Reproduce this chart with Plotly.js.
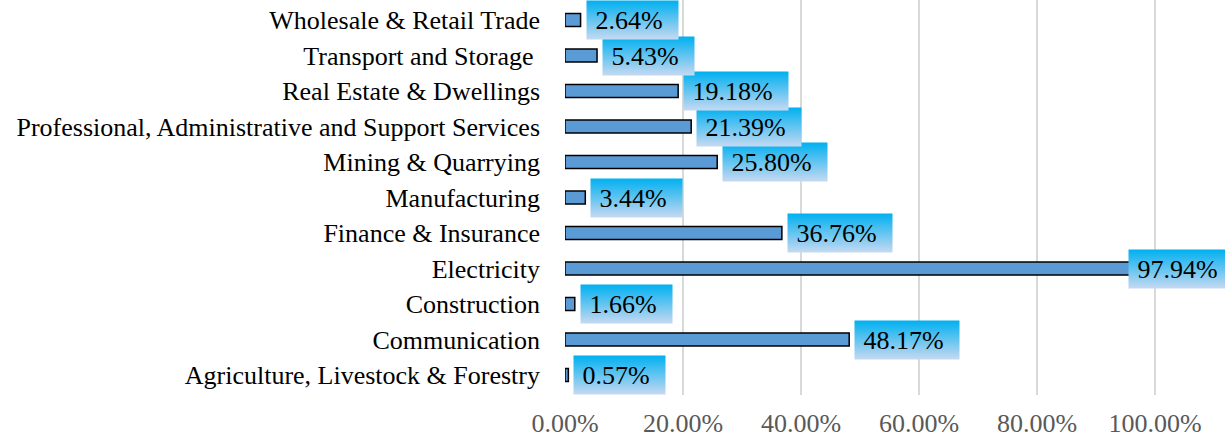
<!DOCTYPE html>
<html>
<head>
<meta charset="utf-8">
<script src="https://cdn.plot.ly/plotly-3.0.1.min.js"></script>
<style>html,body{margin:0;padding:0;background:#fff;}#chart{width:1225px;height:437px;}</style>
</head>
<body>
<div id="chart"></div>
<script>
const categories = [
  "Agriculture, Livestock & Forestry",
  "Communication",
  "Construction",
  "Electricity",
  "Finance & Insurance",
  "Manufacturing",
  "Mining & Quarrying",
  "Professional, Administrative and Support Services",
  "Real Estate & Dwellings",
  "Transport and Storage ",
  "Wholesale & Retail Trade"
];
const shares = [0.0057, 0.4817, 0.0166, 0.9794, 0.3676, 0.0344, 0.2580, 0.2139, 0.1918, 0.0543, 0.0264];
const tickValues = [0, 0.2, 0.4, 0.6, 0.8, 1.0];

const FONT = '"Times New Roman", "Liberation Serif", serif';

const annotations = categories.map((c, i) => {
  const v = shares[i];
  const over = v > 0.9;
  return {
    x: v, y: c, xref: 'x', yref: 'y',
    text: '\u00a0' + (v * 100).toFixed(2) + '%' + (over ? '\u00a0' : '\u00a0\u00a0'),
    showarrow: false,
    xanchor: 'left',
    xshift: over ? -15 : 5,
    bgcolor: '#5cc3f0',
    borderpad: 2,
    height: 34,
    font: {family: FONT, size: 26, color: '#000'}
  };
});

const trace = {
  type: 'bar', orientation: 'h',
  x: shares, y: categories,
  width: 0.36,
  marker: {color: '#5b9bd5', line: {color: '#000', width: 1.5}},
  hoverinfo: 'none'
};

const layout = {
  width: 1225, height: 437,
  margin: {l: 565, r: 11, t: 0, b: 42},
  paper_bgcolor: '#fff', plot_bgcolor: '#fff',
  showlegend: false,
  font: {family: FONT, size: 26, color: '#000'},
  xaxis: {
    range: [0, 1.1],
    tickvals: tickValues,
    tickformat: '.2%',
    showgrid: true, gridcolor: '#d9d9d9', gridwidth: 2,
    zeroline: false, showline: false,
    ticks: '', ticklabelstandoff: 10,
    tickfont: {family: FONT, size: 26, color: '#595959'},
    fixedrange: true
  },
  yaxis: {
    type: 'category',
    categoryorder: 'array', categoryarray: categories,
    showgrid: false, zeroline: false, showline: false,
    ticks: '', ticklabelstandoff: 24,
    tickfont: {family: FONT, size: 26, color: '#000'},
    fixedrange: true
  },
  annotations: annotations
};

Plotly.newPlot('chart', [trace], layout, {displayModeBar: false, staticPlot: true}).then(gd => {
  const svg = gd.querySelector('svg.main-svg');
  const ns = 'http://www.w3.org/2000/svg';
  let defs = svg.querySelector('defs');
  if (!defs) { defs = document.createElementNS(ns, 'defs'); svg.insertBefore(defs, svg.firstChild); }
  const g = document.createElementNS(ns, 'linearGradient');
  g.setAttribute('id', 'lblgrad');
  g.setAttribute('x1', '0'); g.setAttribute('y1', '0');
  g.setAttribute('x2', '0'); g.setAttribute('y2', '1');
  [['0', '#00b0f0'], ['1', '#c6d9f1']].forEach(([o, c]) => {
    const s = document.createElementNS(ns, 'stop');
    s.setAttribute('offset', o); s.setAttribute('stop-color', c);
    g.appendChild(s);
  });
  defs.appendChild(g);
  gd.querySelectorAll('.annotation rect.bg').forEach(r => {
    r.style.fill = 'url(#lblgrad)';
    r.setAttribute('fill', 'url(#lblgrad)');
  });
});
</script>
</body>
</html>
